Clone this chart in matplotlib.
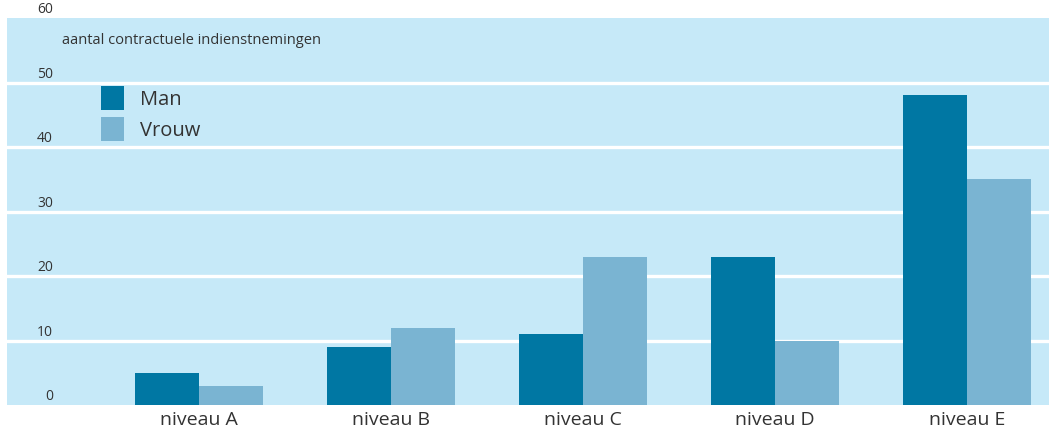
import numpy as np
import matplotlib.pyplot as plt

plt.rcParams['font.family'] = ['Open Sans', 'DejaVu Sans']

# data
niveaus = ['niveau A', 'niveau B', 'niveau C', 'niveau D', 'niveau E']
man = [5, 9, 11, 23, 48]
vrouw = [3, 12, 23, 10, 35]
yticks = [0, 10, 20, 30, 40, 50, 60]

c_man = '#0077a3'
c_vrouw = '#7ab4d2'
c_bg = '#c6e9f8'

fig = plt.figure(figsize=(10.49, 4.30), dpi=100)
ax = fig.add_axes([7 / 1049, 25 / 430, 1042 / 1049, 387 / 430])
ax.set_facecolor(c_bg)

x = np.arange(len(niveaus))
w = 1 / 3
ax.bar(x - w / 2, man, width=w, color=c_man, label='Man', zorder=3)
ax.bar(x + w / 2, vrouw, width=w, color=c_vrouw, label='Vrouw', zorder=3)

# witte rasterlijnen
for t in yticks[1:-1]:
    ax.axhline(t, color='white', lw=2.4, zorder=2)

ax.set_xlim(-1.0, 4.427)
ax.set_ylim(0, 60)

for s in ax.spines.values():
    s.set_visible(False)
ax.set_xticks([])
ax.set_yticks([])

# tick labels boven de lijnen
for t in yticks:
    ax.text(46 / 1042, t + 0.15, str(t), transform=ax.get_yaxis_transform(),
            ha='right', va='bottom', fontsize=10, color='#333333', clip_on=False)

for xi, lab in zip(x, niveaus):
    ax.text(xi, -1.0, lab, ha='center', va='top', fontsize=14, color='#333333', clip_on=False)

ax.text(55 / 1042, 56.5, 'aantal contractuele indienstnemingen', transform=ax.get_yaxis_transform(),
        ha='left', va='center', fontsize=10.5, color='#333333')

leg = ax.legend(loc='upper left', bbox_to_anchor=(94 / 1042, 1 - 68 / 387), frameon=False,
                fontsize=14.5, handlelength=1.15, handleheight=1.45, handletextpad=0.8,
                labelspacing=0.35, borderaxespad=0, borderpad=0)
for txt in leg.get_texts():
    txt.set_color('#333333')

fig.savefig('out.png', dpi=100)
